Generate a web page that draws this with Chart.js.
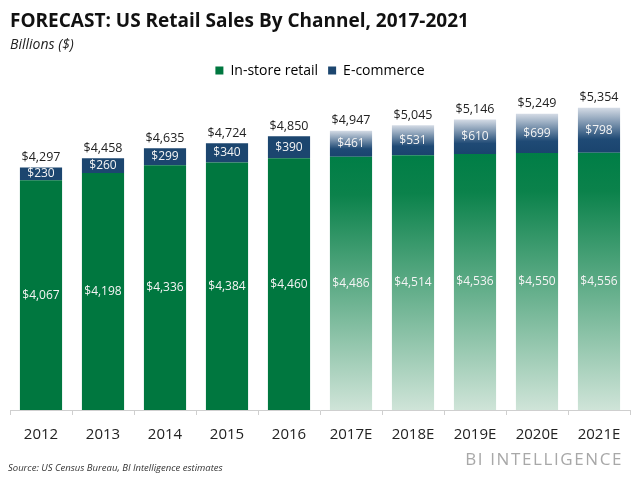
<!DOCTYPE html>
<html>
<head>
<meta charset="utf-8">
<script src="https://cdn.jsdelivr.net/npm/chart.js@4/dist/chart.umd.min.js"></script>
<style>
  html, body { margin: 0; padding: 0; background: #fff; }
  #wrap { position: relative; width: 640px; height: 480px; font-family: "Open Sans", sans-serif; }
  #source { position: absolute; left: 8px; top: 461px; font-size: 9.5px; font-style: italic; color: #333; }
  #brand { position: absolute; right: 17px; top: 447px; font-size: 17px; letter-spacing: 1.6px; color: #a8a8a8; }
</style>
</head>
<body>
<div id="wrap">
  <canvas id="chart" width="640" height="480"></canvas>
  <div id="source">Source: US Census Bureau, BI Intelligence estimates</div>
  <div id="brand">BI INTELLIGENCE</div>
</div>
<script>
// US retail sales by channel, billions of dollars
const years = ["2012", "2013", "2014", "2015", "2016", "2017E", "2018E", "2019E", "2020E", "2021E"];
const inStore = [4067, 4198, 4336, 4384, 4460, 4486, 4514, 4536, 4550, 4556];
const eCommerce = [230, 260, 299, 340, 390, 461, 531, 610, 699, 798];
const firstForecast = 5; // 2017E onwards drawn with a fade

const GREEN = "#00773f";
const NAVY = "#1c466f";

function money(v) {
  return "$" + v.toLocaleString("en-US");
}

function inStoreColor(ctx) {
  const i = ctx.dataIndex;
  const y = ctx.chart.scales.y;
  if (i < firstForecast || !y || !ctx.chart.chartArea) return GREEN;
  const top = y.getPixelForValue(inStore[i]);
  const bottom = y.getPixelForValue(0);
  const g = ctx.chart.ctx.createLinearGradient(0, top, 0, bottom);
  g.addColorStop(0, "#007e46");
  g.addColorStop(0.15, "#0b824b");
  g.addColorStop(1, "#cfe4d8");
  return g;
}

function eCommerceColor(ctx) {
  const i = ctx.dataIndex;
  const y = ctx.chart.scales.y;
  if (i < firstForecast || !y || !ctx.chart.chartArea) return NAVY;
  const top = y.getPixelForValue(inStore[i] + eCommerce[i]);
  const bottom = y.getPixelForValue(inStore[i]);
  const g = ctx.chart.ctx.createLinearGradient(0, bottom, 0, top);
  g.addColorStop(0, "#1a446e");
  g.addColorStop(0.3, "#1f4a75");
  g.addColorStop(1, "#d5dce6");
  return g;
}

// value labels inside the bars and totals above them
const barLabels = {
  id: "barLabels",
  afterDatasetsDraw(chart) {
    const c = chart.ctx;
    c.save();
    c.textAlign = "center";
    c.textBaseline = "middle";
    c.font = "12px 'Open Sans'";
    chart.data.datasets.forEach((ds, d) => {
      chart.getDatasetMeta(d).data.forEach((bar, i) => {
        c.fillStyle = "#f4f4f4";
        c.fillText(money(ds.data[i]), bar.x, (bar.y + bar.base) / 2);
      });
    });
    const top = chart.getDatasetMeta(1).data;
    c.fillStyle = "#222";
    c.font = "12.5px 'Open Sans'";
    top.forEach((bar, i) => {
      c.fillText(money(inStore[i] + eCommerce[i]), bar.x, bar.y - 10);
    });
    c.restore();
  }
};

new Chart(document.getElementById("chart"), {
  type: "bar",
  data: {
    labels: years,
    datasets: [
      { label: "In-store retail", data: inStore, backgroundColor: inStoreColor,
        borderWidth: 0, barPercentage: 0.68, categoryPercentage: 1 },
      { label: "E-commerce", data: eCommerce, backgroundColor: eCommerceColor,
        borderWidth: 0, barPercentage: 0.68, categoryPercentage: 1 }
    ]
  },
  options: {
    responsive: false,
    animation: false,
    layout: { padding: { left: 10, right: 10, top: 0, bottom: 25 } },
    plugins: {
      title: {
        display: true,
        align: "start",
        text: "FORECAST: US Retail Sales By Channel, 2017-2021",
        color: "#111",
        font: { family: "Open Sans", size: 19, weight: "bold" },
        padding: { top: 10, bottom: 0 }
      },
      subtitle: {
        display: true,
        align: "start",
        text: "Billions ($)",
        color: "#222",
        font: { family: "Open Sans", size: 14, style: "italic" },
        padding: { top: 4, bottom: 0 }
      },
      legend: {
        position: "top",
        labels: {
          boxWidth: 8,
          boxHeight: 8,
          padding: 10,
          color: "#222",
          font: { family: "Open Sans", size: 14 },
          generateLabels: () => [
            { text: "In-store retail", fillStyle: GREEN, strokeStyle: GREEN, lineWidth: 0, datasetIndex: 0 },
            { text: "E-commerce", fillStyle: NAVY, strokeStyle: NAVY, lineWidth: 0, datasetIndex: 1 }
          ]
        }
      },
      tooltip: { enabled: false }
    },
    scales: {
      x: {
        stacked: true,
        border: { color: "#cfcfcf" },
        grid: { drawOnChartArea: false, drawTicks: true, tickLength: 5, color: "#cfcfcf", offset: true },
        ticks: { color: "#222", padding: 11, font: { family: "Open Sans", size: 15 } }
      },
      y: {
        stacked: true,
        display: false,
        min: 0,
        max: 5710
      }
    }
  },
  plugins: [barLabels]
});
</script>
</body>
</html>
